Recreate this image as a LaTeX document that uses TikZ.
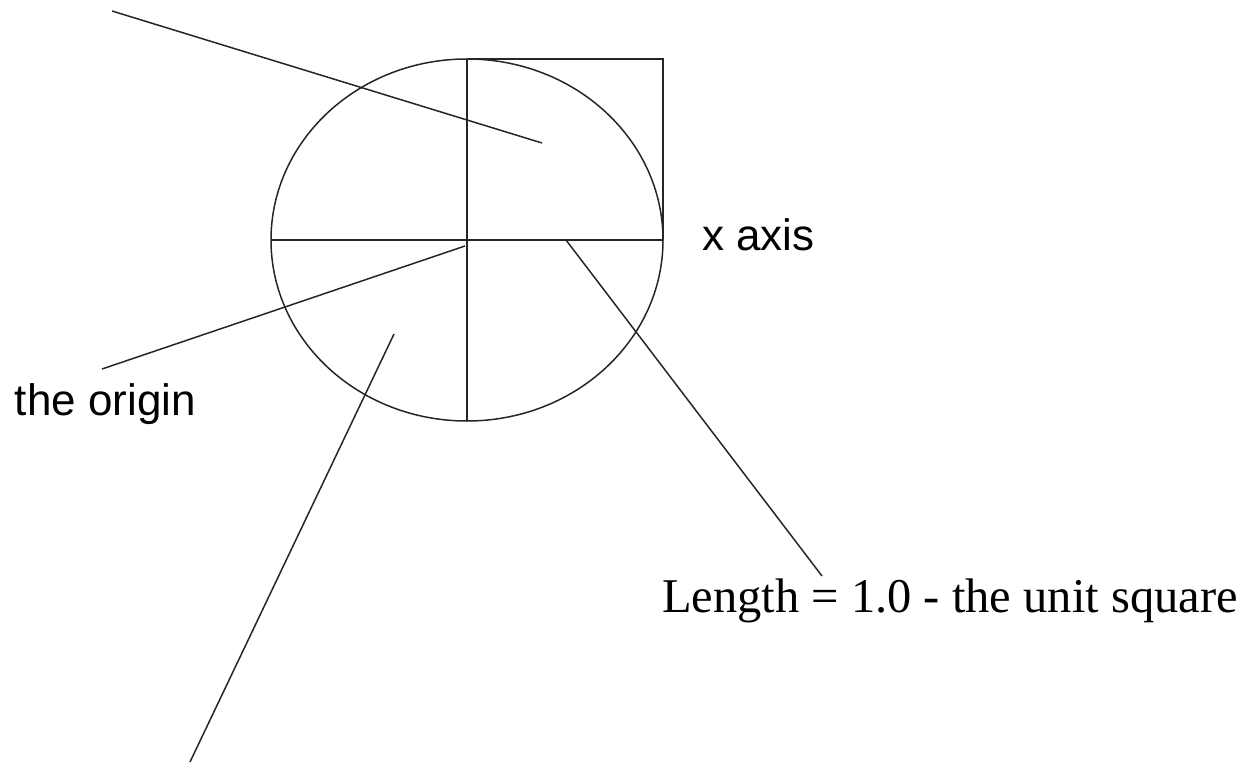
\documentclass[tikz,border=0pt]{standalone}
\usepackage{fontspec}
\setmainfont{Liberation Serif}
\newfontfamily\labelsans{Liberation Sans}
\begin{document}
\begin{tikzpicture}[x=1pt,y=-1pt,
  stroke/.style={line width=1.5pt, draw=black!85},
  sanslabel/.style={inner sep=0pt, font=\labelsans\fontsize{44}{50}\selectfont},
  seriflabel/.style={inner sep=0pt, font=\fontsize{48.5}{54}\selectfont}]
\useasboundingbox (0,0) rectangle (1247,768);
% geometry
\coordinate (O) at (467,240);
\coordinate (L) at (271,240);
\coordinate (R) at (663,240);
\coordinate (T) at (467,59);
\coordinate (B) at (467,421);
\coordinate (TR) at (663,59);
\draw[stroke] (O) ellipse [x radius=196, y radius=181];
\draw[stroke] (L) -- (R);
\draw[stroke] (T) -- (B);
\draw[stroke] (T) -- (TR) -- (R);
% labels
\node[sanslabel, anchor=base west] (xaxis) at (702,250) {x axis};
\node[sanslabel, anchor=base east] (origin) at (196,415) {the origin};
\node[seriflabel, anchor=base west] (length) at (662,612) {Length = 1.0 - the unit square};
% leader lines
\coordinate (a1) at (112,11);
\coordinate (a2) at (542,143);
\coordinate (b1) at (465,246);
\coordinate (b2) at (102,369);
\coordinate (c1) at (566,240);
\coordinate (c2) at (822,576);
\coordinate (d1) at (394,334);
\coordinate (d2) at (190,762);
\draw[stroke] (a1) -- (a2);
\draw[stroke] (b1) -- (b2);
\draw[stroke] (c1) -- (c2);
\draw[stroke] (d1) -- (d2);
\end{tikzpicture}
\end{document}
